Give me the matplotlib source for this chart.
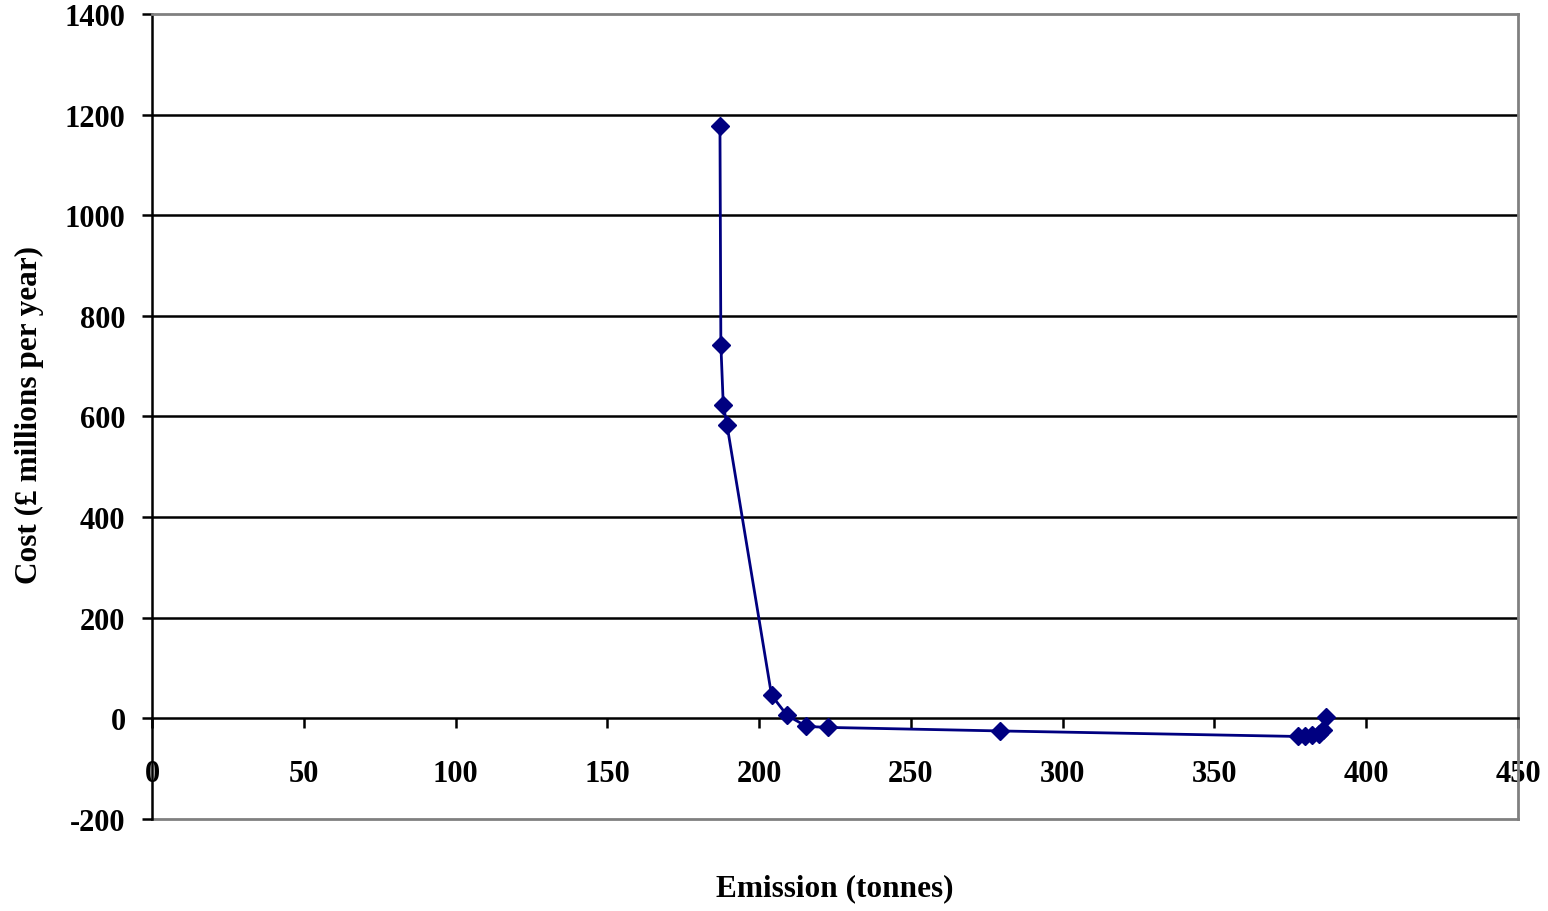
import matplotlib.pyplot as plt

plt.rcParams['font.family'] = ['Liberation Serif', 'DejaVu Serif']
plt.rcParams['font.weight'] = 'bold'

# emission (tonnes) vs cost (GBP millions per year)
emission = [187.1, 187.4, 188.2, 189.4, 204.1, 209.2, 215.6, 222.7, 279.3,
            377.5, 379.8, 382.1, 384.4, 385.7, 386.7]
cost = [1177, 743, 622, 584, 46, 6, -16, -18, -25,
        -36, -36, -34, -32, -24, 2]

x_ticks = [0, 50, 100, 150, 200, 250, 300, 350, 400, 450]
y_ticks = [-200, 0, 200, 400, 600, 800, 1000, 1200, 1400]

fig = plt.figure(figsize=(15.48, 9.12), dpi=100)
ax = fig.add_axes([0.0982, 0.1009, 0.9806 - 0.0982, 0.9836 - 0.1009])

# horizontal gridlines
for v in [200, 400, 600, 800, 1000, 1200]:
    ax.axhline(v, color='black', lw=1.8, zorder=1)
ax.axhline(-200, color='#808080', lw=2, zorder=1, clip_on=False)

ax.plot(emission, cost, color='#000080', lw=2, marker='D', ms=9,
        zorder=3, clip_on=False)

ax.spines['bottom'].set_position(('data', 0))
ax.spines['bottom'].set_color('black')
ax.spines['bottom'].set_linewidth(1.8)
ax.spines['left'].set_color('black')
ax.spines['left'].set_linewidth(1.8)
for s in ['top', 'right']:
    ax.spines[s].set_color('#808080')
    ax.spines[s].set_linewidth(2)

ax.set_xlim(0, 450)
ax.set_ylim(-200, 1400)
ax.set_xticks(x_ticks)
ax.set_yticks(y_ticks)
ax.set_xticklabels([str(v) for v in x_ticks])
ax.set_yticklabels([str(v) for v in y_ticks])

ax.tick_params(axis='x', direction='out', length=7, width=1.8, pad=22,
               labelsize=22)
ax.tick_params(axis='y', direction='out', length=7, width=1.8, pad=12,
               labelsize=22)
for lbl in ax.get_xticklabels() + ax.get_yticklabels():
    lbl.set_fontweight('bold')

fig.text(0.539, 0.026, 'Emission (tonnes)', ha='center', va='center',
         fontsize=22.5, fontweight='bold')
fig.text(0.019, 0.545, 'Cost (£ millions per year)', ha='center', va='center',
         rotation=90, fontsize=22.5, fontweight='bold')

fig.savefig('out.png', dpi=100)
